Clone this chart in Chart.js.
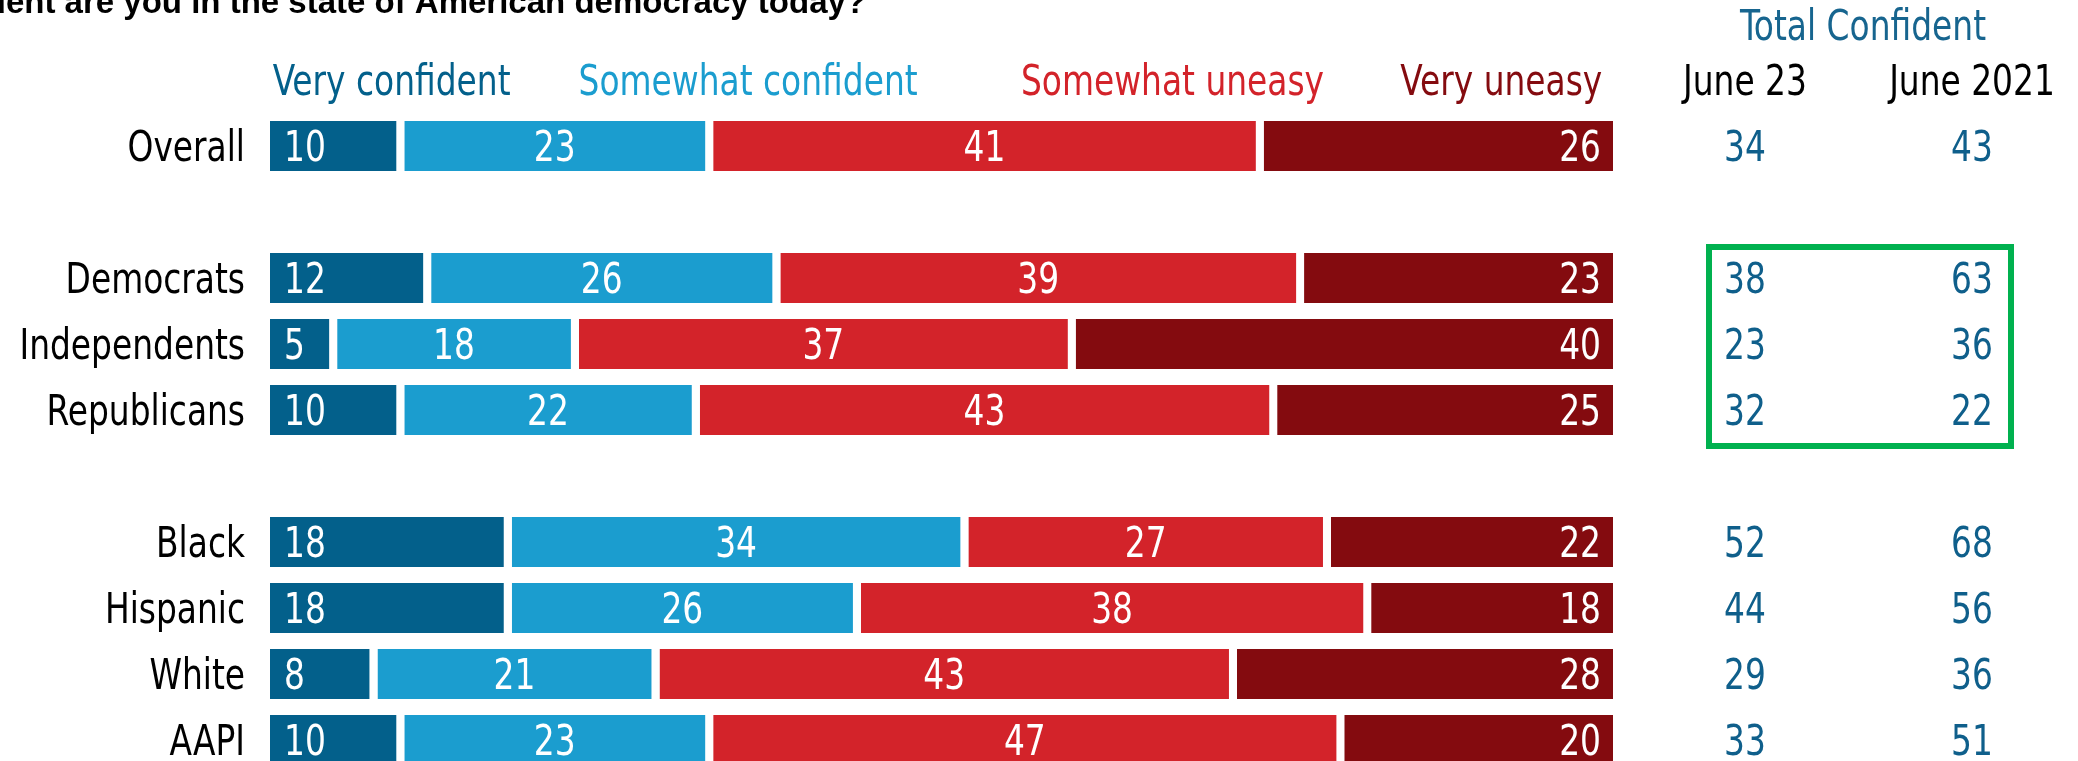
<!DOCTYPE html>
<html>
<head>
<meta charset="utf-8">
<script src="https://cdn.jsdelivr.net/npm/chart.js@4.4.0/dist/chart.umd.min.js"></script>
<style>
  html, body { margin: 0; padding: 0; background: #fff; overflow: hidden; }
  #wrap { width: 2078px; height: 761px; overflow: hidden; }
</style>
</head>
<body>
<div id="wrap"><canvas id="chart" width="2078" height="800"></canvas></div>
<script>
const questionText = 'How confident are you in the state of American democracy today?';
const categories = ['Overall', '', 'Democrats', 'Independents', 'Republicans', '', 'Black', 'Hispanic', 'White', 'AAPI'];
const seriesNames = ['Very confident', 'Somewhat confident', 'Somewhat uneasy', 'Very uneasy'];
const veryConfident     = [10, null, 12, 5, 10, null, 18, 18, 8, 10];
const somewhatConfident = [23, null, 26, 18, 22, null, 34, 26, 21, 23];
const somewhatUneasy    = [41, null, 39, 37, 43, null, 27, 38, 43, 47];
const veryUneasy        = [26, null, 23, 40, 25, null, 22, 18, 28, 20];
const totalTitle = 'Total Confident';
const columnHeads = ['June 23', 'June 2021'];
const totalJune23   = [34, null, 38, 23, 32, null, 52, 44, 29, 33];
const totalJune2021 = [43, null, 63, 36, 22, null, 68, 56, 36, 51];

const seriesColors = ['#03608b', '#1b9dcf', '#d3232a', '#840b0f'];
const numColor = '#0f5f8b';
const FONT = '"DejaVu Sans Condensed", "DejaVu Sans", sans-serif';
const SX = 0.87; // police plus étroite

function drawText(ctx, text, x, y, align) {
    ctx.save();
    ctx.translate(x, y);
    ctx.scale(SX, 1);
    ctx.textAlign = align;
    ctx.fillText(text, 0, 0);
    ctx.restore();
}

// texte et étiquettes dessinés à la main
const annotations = {
    id: 'annotations',
    afterDatasetsDraw(chart) {
        const { ctx, chartArea, scales: { x, y } } = chart;
        ctx.save();

        // question (coupée à gauche, comme l'original)
        ctx.font = 'bold 33px "Liberation Sans", sans-serif';
        ctx.fillStyle = '#000';
        ctx.textAlign = 'right';
        ctx.textBaseline = 'alphabetic';
        ctx.fillText(questionText, 866, 13);

        ctx.font = '42px ' + FONT;

        // valeurs dans les barres
        chart.data.datasets.forEach((ds, di) => {
            const meta = chart.getDatasetMeta(di);
            meta.data.forEach((bar, i) => {
                const v = ds.data[i];
                if (v == null) return;
                const left = bar.base;
                const right = Math.min(bar.x, chartArea.right) - (di < 3 ? 8 : 0);
                const base = bar.y + 15;
                ctx.fillStyle = '#fff';
                if (di === 0) drawText(ctx, v, left + 14, base, 'left');
                else if (di === 3) drawText(ctx, v, right - 12, base, 'right');
                else drawText(ctx, v, (left + right) / 2, base, 'center');
            });
        });

        // catégories
        ctx.fillStyle = '#000';
        categories.forEach((c, i) => {
            if (c) drawText(ctx, c, chartArea.left - 25, y.getPixelForValue(i) + 15, 'right');
        });

        // en-têtes des séries
        const headY = y.getPixelForValue(0) - 51;
        const headPos = [[0.2, 'left'], [35.6, 'center'], [67.2, 'center'], [99.2, 'right']];
        seriesNames.forEach((name, i) => {
            ctx.fillStyle = seriesColors[i];
            drawText(ctx, name, x.getPixelForValue(headPos[i][0]), headY, headPos[i][1]);
        });

        // colonnes "Total Confident"
        const colX = [1745, 1972];
        ctx.fillStyle = '#17658f';
        drawText(ctx, totalTitle, 1863, 40, 'center');
        ctx.fillStyle = '#000';
        columnHeads.forEach((h, i) => drawText(ctx, h, colX[i], headY, 'center'));
        ctx.fillStyle = numColor;
        [totalJune23, totalJune2021].forEach((col, ci) => {
            col.forEach((v, i) => {
                if (v != null) drawText(ctx, v, colX[ci], y.getPixelForValue(i) + 15, 'center');
            });
        });

        // cadre vert autour des partis
        ctx.strokeStyle = '#00b14f';
        ctx.lineWidth = 6;
        const top = y.getPixelForValue(2) - 31;
        const bottom = y.getPixelForValue(4) + 36;
        ctx.strokeRect(1709, top, 2011 - 1709, bottom - top);

        ctx.restore();
    }
};

const allSeries = [veryConfident, somewhatConfident, somewhatUneasy, veryUneasy];

new Chart(document.getElementById('chart'), {
    type: 'bar',
    data: {
        labels: categories,
        datasets: allSeries.map((vals, i) => ({
            label: seriesNames[i],
            data: vals,
            backgroundColor: seriesColors[i],
            borderColor: '#fff',
            borderWidth: i < 3 ? { top: 0, right: 8, bottom: 0, left: 0 } : 0,
            borderSkipped: false,
            categoryPercentage: 1,
            barPercentage: 0.76,
        }))
    },
    options: {
        indexAxis: 'y',
        responsive: false,
        animation: false,
        layout: { padding: { left: 270, right: 465, top: 113, bottom: 27 } },
        plugins: {
            legend: { display: false },
            tooltip: { enabled: false },
        },
        scales: {
            x: { stacked: true, min: 0, max: 100, display: false },
            y: { stacked: true, display: false },
        }
    },
    plugins: [annotations]
});
</script>
</body>
</html>
